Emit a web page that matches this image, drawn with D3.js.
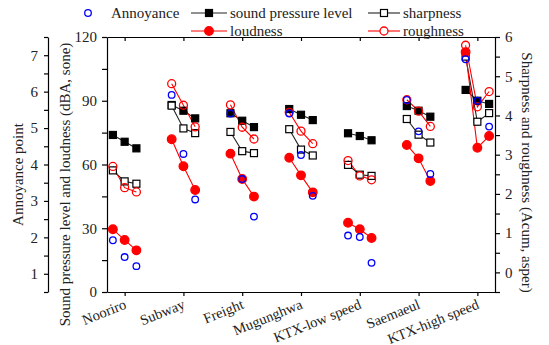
<!DOCTYPE html>
<html>
  <head>
    <title>Train noise: annoyance and psychoacoustic metrics</title>
    <script src="https://d3js.org/d3.v7.min.js"></script>
    <style>
      body { margin: 0; background: #fff; }
      .axis path, .axis line { stroke: #000; stroke-width: 1.2; }
    </style>
  </head>
  <body>
    <svg width="549" height="345"></svg>
    <script>
      // Categories (train types), three measurement points per type
      const categories = ["Nooriro", "Subway", "Freight", "Mugunghwa", "KTX-low speed", "Saemaeul", "KTX-high speed"];

      // Annoyance point (left outer axis)
      const annoyance = [[1.92, 1.46, 1.21], [5.91, 4.29, 3.04], [5.40, 3.60, 2.57], [5.40, 4.26, 3.14],
                         [2.05, 2.01, 1.30], [5.77, 4.91, 3.74], [6.89, 5.75, 5.04]];
      // Sound pressure level, dBA (left inner axis)
      const spl = [[73.9, 70.7, 67.6], [88.0, 85.3, 81.7], [84.1, 80.6, 77.6], [86.1, 83.4, 80.9],
                   [74.7, 73.4, 71.4], [87.5, 85.3, 82.5], [95.1, 90.0, 88.5]];
      // Loudness, sone (left inner axis)
      const loudness = [[29.5, 24.5, 19.6], [71.9, 59.2, 48.0], [65.1, 53.2, 44.9], [63.2, 54.9, 46.9],
                        [32.6, 29.5, 25.4], [69.2, 62.9, 52.2], [112.9, 67.9, 73.4]];
      // Sharpness, acum (right axis)
      const sharpness = [[2.60, 2.32, 2.26], [4.25, 3.67, 3.55], [3.58, 3.09, 3.04], [3.65, 3.13, 2.98],
                         [2.74, 2.49, 2.46], [3.91, 3.51, 3.31], [5.50, 3.84, 4.06]];
      // Roughness, asper (right axis)
      const roughness = [[2.70, 2.16, 2.05], [4.81, 4.26, 3.71], [4.27, 3.70, 3.40], [4.08, 3.60, 3.28],
                         [2.85, 2.46, 2.36], [4.40, 4.11, 3.72], [5.79, 4.22, 4.61]];

      // Layout
      const plot = { left: 107, right: 495, top: 37, bottom: 292 };
      const annoX = 48;
      const FONT = '"Liberation Serif"';

      const svg = d3.select("svg");

      // Scales
      const x = d3.scaleLinear().domain([0.7, 7.3]).range([plot.left, plot.right]);
      const yLeft = d3.scaleLinear().domain([0, 120]).range([plot.bottom, plot.top]);
      const yAnno = d3.scaleLinear().domain([0.5, 7.5]).range([plot.bottom, plot.top]);
      const yRight = d3.scaleLinear().domain([-0.5, 6]).range([plot.bottom, plot.top]);
      const offset = 0.2;

      const px = (i, j) => x(i + 1 + (j - 1) * offset);

      const serif = sel => sel.style("font-family", FONT).style("font-size", "15px").style("fill", "#222");
      const styleAxis = g => g.selectAll("text").call(serif);

      // Axes
      svg.append("g").attr("class", "axis")
        .attr("transform", `translate(${annoX},0)`)
        .call(d3.axisLeft(yAnno).tickValues(d3.range(0.5, 7.51, 0.5))
          .tickFormat(d => (Number.isInteger(d) && d > 0) ? d : "").tickSize(4).tickSizeOuter(0))
        .call(styleAxis)
        .call(g => g.selectAll("text").attr("dx", "-3"));

      svg.append("g").attr("class", "axis")
        .attr("transform", `translate(${plot.left},0)`)
        .call(d3.axisLeft(yLeft).tickValues(d3.range(0, 121, 15))
          .tickFormat(d => d % 30 === 0 ? d : "").tickSize(5).tickSizeOuter(0))
        .call(styleAxis)
        .call(g => g.selectAll("text").attr("dx", "-2"));

      svg.append("g").attr("class", "axis")
        .attr("transform", `translate(${plot.right},0)`)
        .call(d3.axisRight(yRight).tickValues(d3.range(-0.5, 6.01, 0.5))
          .tickFormat(d => Number.isInteger(d) ? d : "").tickSize(5).tickSizeOuter(0))
        .call(styleAxis)
        .call(g => g.selectAll("text").attr("dx", "2"));

      // top frame with inward ticks
      svg.append("g").attr("class", "axis")
        .attr("transform", `translate(0,${plot.top})`)
        .call(d3.axisBottom(x).tickValues(d3.range(1, 8)).tickFormat("").tickSize(4).tickSizeOuter(0));

      const xAxis = svg.append("g").attr("class", "axis")
        .attr("transform", `translate(0,${plot.bottom})`)
        .call(d3.axisBottom(x).tickValues(d3.range(1, 8)).tickFormat((d, i) => categories[i])
          .tickSize(4).tickSizeOuter(0))
        .call(styleAxis);
      xAxis.selectAll("text")
        .style("font-size", "14.5px")
        .attr("text-anchor", "end")
        .attr("y", 0)
        .attr("dy", 0)
        .attr("transform", "translate(2,16) rotate(-22)");

      // Axis titles
      const midY = (plot.top + plot.bottom) / 2;
      const title = (tx, ty, rot, label) => svg.append("text")
        .attr("transform", `translate(${tx},${ty}) rotate(${rot})`)
        .attr("text-anchor", "middle")
        .call(serif)
        .text(label);
      title(23, midY + 10, -90, "Annoyance point");
      title(70, midY + 20, -90, "Sound pressure level and loudness (dBA, sone)");
      title(522, midY + 8, 90, "Sharpness and roughness (Acum, asper)");

      // Series drawing helpers
      function points(data, yScale) {
        return data.map((grp, i) => grp.map((v, j) => ({ x: px(i, j), y: yScale(v) })));
      }
      function drawLines(data, yScale, color) {
        const line = d3.line().x(d => d.x).y(d => d.y);
        svg.append("g").selectAll("path")
          .data(points(data, yScale))
          .join("path")
          .attr("d", line)
          .attr("fill", "none")
          .attr("stroke", color)
          .attr("stroke-width", 1.1);
      }
      function drawSquares(data, yScale, filled) {
        svg.append("g").selectAll("rect")
          .data(points(data, yScale).flat())
          .join("rect")
          .attr("x", d => d.x - 3.5).attr("y", d => d.y - 3.5)
          .attr("width", 7).attr("height", 7)
          .attr("fill", filled ? "#000" : "#fff")
          .attr("stroke", "#000").attr("stroke-width", 1.2);
      }
      function drawCircles(data, yScale, color, filled, r) {
        svg.append("g").selectAll("circle")
          .data(points(data, yScale).flat())
          .join("circle")
          .attr("cx", d => d.x).attr("cy", d => d.y).attr("r", r)
          .attr("fill", filled ? color : "none")
          .attr("stroke", color).attr("stroke-width", 1.3);
      }

      drawLines(spl, yLeft, "#222");
      drawLines(sharpness, yRight, "#222");
      drawLines(loudness, yLeft, "#f00");
      drawLines(roughness, yRight, "#f00");
      drawSquares(spl, yLeft, true);
      drawSquares(sharpness, yRight, false);
      drawCircles(loudness, yLeft, "#f00", true, 4.3);
      drawCircles(roughness, yRight, "#f00", false, 4);
      drawCircles(annoyance, yAnno, "#00f", false, 3.3);

      // Legend
      const legend = svg.append("g");
      const row1 = 13, row2 = 31;
      legend.append("circle").attr("cx", 88).attr("cy", row1).attr("r", 3.3)
        .attr("fill", "none").attr("stroke", "#00f").attr("stroke-width", 1.3);
      legend.append("text").attr("x", 111).attr("y", row1 + 5).call(serif).text("Annoyance");

      const items = [
        { x: 191, y: row1, color: "#222", mark: "sq", filled: true, label: "sound pressure level" },
        { x: 368, y: row1, color: "#222", mark: "sq", filled: false, label: "sharpness" },
        { x: 191, y: row2, color: "#f00", mark: "ci", filled: true, label: "loudness" },
        { x: 368, y: row2, color: "#f00", mark: "ci", filled: false, label: "roughness" }
      ];
      items.forEach(it => {
        const w = it.x === 191 ? 36 : 32;
        legend.append("line").attr("x1", it.x).attr("x2", it.x + w)
          .attr("y1", it.y).attr("y2", it.y).attr("stroke", it.color).attr("stroke-width", 1.1);
        const cx = it.x + w / 2;
        if (it.mark === "sq") {
          legend.append("rect").attr("x", cx - 3.5).attr("y", it.y - 3.5).attr("width", 7).attr("height", 7)
            .attr("fill", it.filled ? "#000" : "#fff").attr("stroke", "#000").attr("stroke-width", 1.2);
        } else {
          legend.append("circle").attr("cx", cx).attr("cy", it.y).attr("r", it.filled ? 4.3 : 4)
            .attr("fill", it.filled ? it.color : "#fff").attr("stroke", it.color).attr("stroke-width", 1.3);
        }
        legend.append("text").attr("x", it.x + w + 3).attr("y", it.y + 5).call(serif).text(it.label);
      });
    </script>
  </body>
</html>
